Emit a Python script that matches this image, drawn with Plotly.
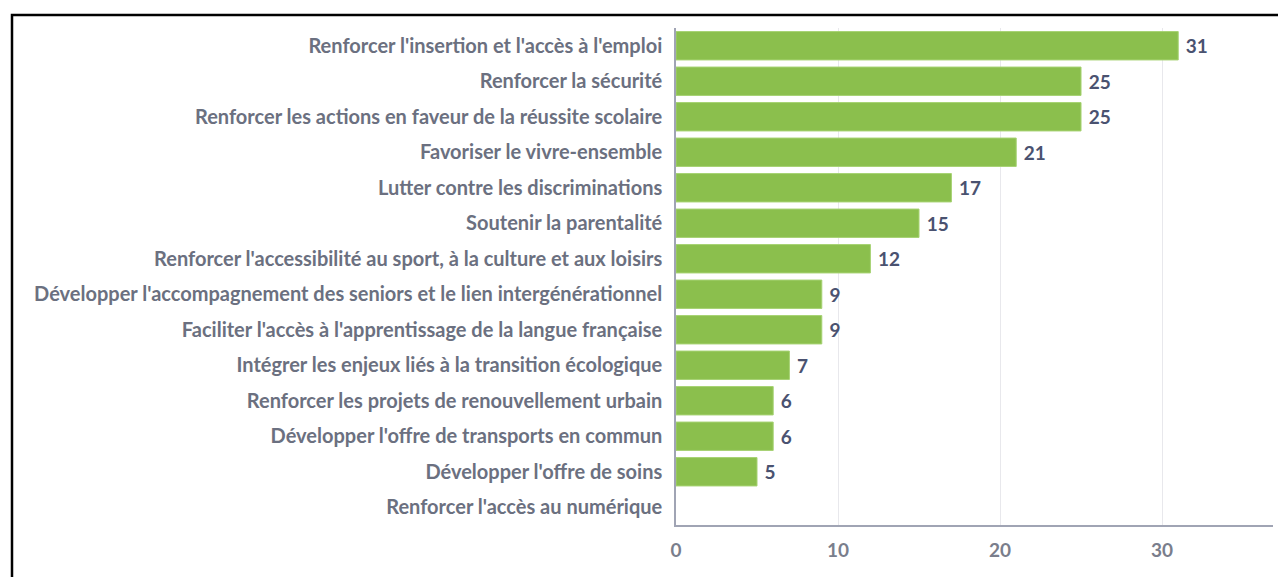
import plotly.graph_objects as go

categories = [
    "Renforcer l'insertion et l'accès à l'emploi",
    "Renforcer la sécurité",
    "Renforcer les actions en faveur de la réussite scolaire",
    "Favoriser le vivre-ensemble",
    "Lutter contre les discriminations",
    "Soutenir la parentalité",
    "Renforcer l'accessibilité au sport, à la culture et aux loisirs",
    "Développer l'accompagnement des seniors et le lien intergénérationnel",
    "Faciliter l'accès à l'apprentissage de la langue française",
    "Intégrer les enjeux liés à la transition écologique",
    "Renforcer les projets de renouvellement urbain",
    "Développer l'offre de transports en commun",
    "Développer l'offre de soins",
    "Renforcer l'accès au numérique",
]
values = [31, 25, 25, 21, 17, 15, 12, 9, 9, 7, 6, 6, 5, 0]
x_ticks = [0, 10, 20, 30]

labels = [" " + str(v) if v > 0 else "" for v in values]
outline = [1 if v > 0 else 0 for v in values]

# page body has an 8px margin; positions below are in figure pixels
W, H = 1286, 577
L, R, T, B = 668, 21, 20, 60
pw, ph = W - L - R, H - T - B

fig = go.Figure(go.Bar(
    x=values, y=categories, orientation="h",
    marker=dict(color="#8bbf4d", line=dict(color="#a6d273", width=outline)),
    text=labels, textposition="outside", cliponaxis=False,
    textfont=dict(family="Lato", size=19, color="#4a5270", weight="bold"),
))

fig.update_layout(
    width=W, height=H,
    margin=dict(l=L, r=R, t=T, b=B, autoexpand=False),
    paper_bgcolor="white", plot_bgcolor="white",
    bargap=0.2, showlegend=False,
    font=dict(family="Lato", color="#6b7080"),
    xaxis=dict(
        range=[0, 36.85], tickvals=x_ticks, showgrid=True, gridcolor="#e8e8ec", gridwidth=1,
        zeroline=False, showline=True, linecolor="#a0a4b4", linewidth=1.5,
        tickfont=dict(family="Lato", size=19, color="#7a7e8c", weight="bold"),
        ticklabelstandoff=7,
    ),
    yaxis=dict(
        autorange="reversed", showgrid=False, zeroline=False,
        showline=True, linecolor="#a0a4b4", linewidth=1.5,
        tickfont=dict(family="Lato", size=20, color="#6b7080", weight="bold"),
        ticklabelstandoff=8,
    ),
    shapes=[dict(
        type="rect", xref="paper", yref="paper",
        x0=(4 - L) / pw, x1=(1300 - L) / pw,
        y0=(H - B - 600) / ph, y1=(H - B - 7) / ph,
        line=dict(color="black", width=2.5), fillcolor="rgba(0,0,0,0)", layer="above",
    )],
)

fig.write_html("out.html")
